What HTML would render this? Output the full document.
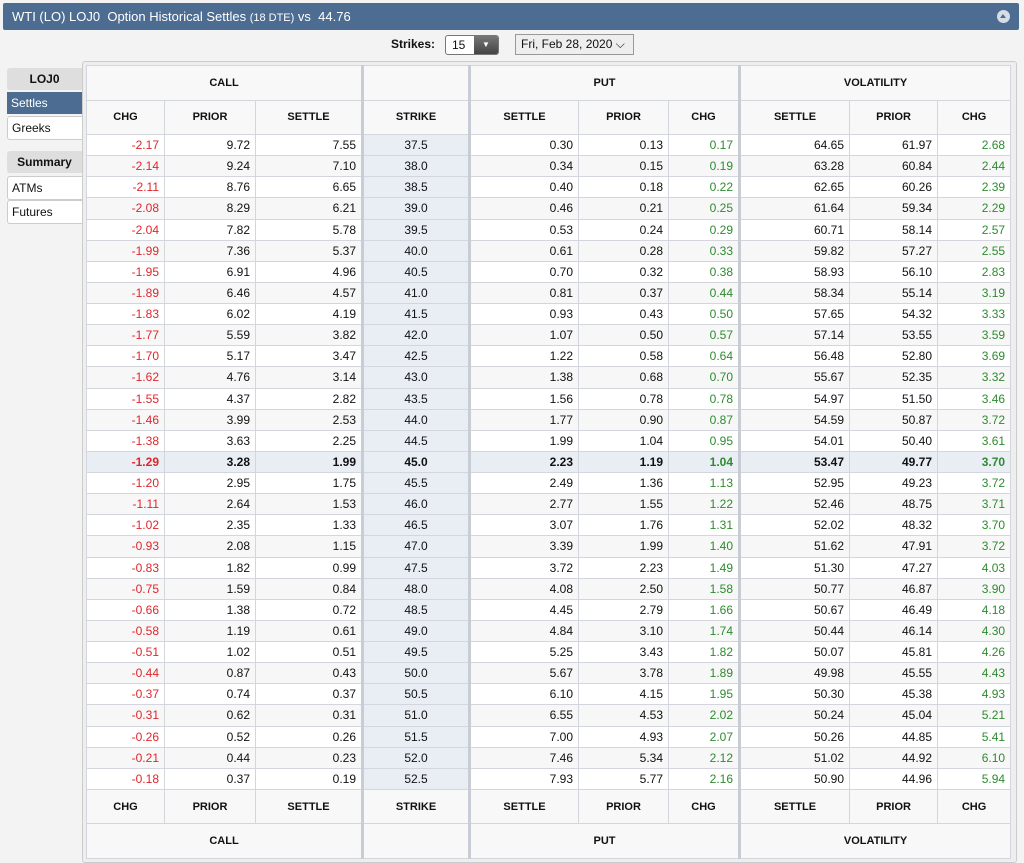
<!DOCTYPE html>
<html><head><meta charset="utf-8"><style>
*{box-sizing:border-box;margin:0;padding:0}
body{width:1024px;height:863px;background:#f3f3f3;font-family:"Liberation Sans",Arial,sans-serif;position:relative;overflow:hidden;color:#111}
.hdr{position:absolute;left:3px;top:3px;width:1016px;height:27px;background:#4c6c91;color:#fff;font-size:13px;line-height:27px;padding-left:9px;border-radius:2px}
.hdr small{font-size:11px}
.hdr .ic{position:absolute;right:9px;top:7px;width:13px;height:13px;border-radius:50%;background:#d7dde6}
.hdr .ic:after{content:"";position:absolute;left:3px;top:4px;border-left:3.5px solid transparent;border-right:3.5px solid transparent;border-bottom:4px solid #4c6c91}
.lab{position:absolute;left:391px;top:37px;font-size:12px;font-weight:bold}
.sel{position:absolute;left:445px;top:35px;width:54px;height:20px;border:1px solid #777;border-radius:3px;background:#fff;font-size:12px;line-height:18px;padding-left:6px;overflow:hidden}
.sel b{position:absolute;right:0;top:0;width:24px;height:18px;background:linear-gradient(#777,#444);color:#fff;font-size:8px;text-align:center;line-height:18px}
.date{position:absolute;left:515px;top:34px;width:119px;height:21px;border:1px solid #999;background:#eee;font-size:12px;line-height:19px;padding-left:5px}
.side div{position:absolute;left:7px;width:75px;font-size:12px;line-height:22px;padding-left:4px}
.g{background:#dedede;font-weight:bold;text-align:center;padding-left:0!important;border-radius:3px 0 0 3px}
.w{background:#fff;border:1px solid #ccc;border-right:none;border-radius:3px 0 0 3px}
.s{background:#4c6c91;color:#fff}
.panel{position:absolute;left:82px;top:61px;width:935px;height:802px;border:1px solid #ccc;border-radius:3px;background:#eee}
table{position:absolute;left:86px;top:65px;width:924px;border-collapse:collapse;table-layout:fixed;font-size:12px;background:#fff}
td{border:1px solid #d3d6dc;text-align:right;padding-right:5px;height:21.13px;white-space:nowrap}
tr.h td{height:34.5px;text-align:center;padding:0;font-weight:bold;font-size:11px;background:#f8f8f8}
tr:nth-child(even):not(.h) td{background:#f7f7f8}
td:nth-child(4){text-align:center;padding:0;background:#e9edf4!important}
td:nth-child(4),td:nth-child(5),td:nth-child(8){border-left:3px solid #c8ccd4}
tr.h td.k{border-left:3px solid #c8ccd4;background:#f8f8f8!important}
td:nth-child(1){color:#e0262b}
td:nth-child(7),td:nth-child(10){color:#2e8b2e}
tr.h td{color:#111!important}
tr.a td{background:#e9edf4!important;font-weight:bold}
</style></head><body>
<div class="hdr">WTI (LO) LOJ0&nbsp; Option Historical Settles <small>(18 DTE)</small> vs&nbsp; 44.76<div class="ic"></div></div>
<div class="lab">Strikes:</div>
<div class="sel">15<b>▼</b></div>
<div class="date">Fri, Feb 28, 2020 ⌵</div>
<div class="panel"></div>
<div class="side">
<div class="g" style="top:68px">LOJ0</div>
<div class="s" style="top:92px">Settles</div>
<div class="w" style="top:116px">Greeks</div>
<div class="g" style="top:151px">Summary</div>
<div class="w" style="top:176px">ATMs</div>
<div class="w" style="top:200px">Futures</div>
</div>
<table>
<colgroup><col style="width:78px"><col style="width:91px"><col style="width:107px"><col style="width:107px"><col style="width:109px"><col style="width:90px"><col style="width:71px"><col style="width:110px"><col style="width:88px"><col style="width:73px"></colgroup>
<tr class="h"><td colspan="3">CALL</td><td class="k"></td><td colspan="3" class="k">PUT</td><td colspan="3" class="k">VOLATILITY</td></tr>
<tr class="h"><td>CHG</td><td>PRIOR</td><td>SETTLE</td><td class="k">STRIKE</td><td class="k">SETTLE</td><td>PRIOR</td><td>CHG</td><td class="k">SETTLE</td><td>PRIOR</td><td>CHG</td></tr>
<tr><td>-2.17</td><td>9.72</td><td>7.55</td><td>37.5</td><td>0.30</td><td>0.13</td><td>0.17</td><td>64.65</td><td>61.97</td><td>2.68</td></tr>
<tr><td>-2.14</td><td>9.24</td><td>7.10</td><td>38.0</td><td>0.34</td><td>0.15</td><td>0.19</td><td>63.28</td><td>60.84</td><td>2.44</td></tr>
<tr><td>-2.11</td><td>8.76</td><td>6.65</td><td>38.5</td><td>0.40</td><td>0.18</td><td>0.22</td><td>62.65</td><td>60.26</td><td>2.39</td></tr>
<tr><td>-2.08</td><td>8.29</td><td>6.21</td><td>39.0</td><td>0.46</td><td>0.21</td><td>0.25</td><td>61.64</td><td>59.34</td><td>2.29</td></tr>
<tr><td>-2.04</td><td>7.82</td><td>5.78</td><td>39.5</td><td>0.53</td><td>0.24</td><td>0.29</td><td>60.71</td><td>58.14</td><td>2.57</td></tr>
<tr><td>-1.99</td><td>7.36</td><td>5.37</td><td>40.0</td><td>0.61</td><td>0.28</td><td>0.33</td><td>59.82</td><td>57.27</td><td>2.55</td></tr>
<tr><td>-1.95</td><td>6.91</td><td>4.96</td><td>40.5</td><td>0.70</td><td>0.32</td><td>0.38</td><td>58.93</td><td>56.10</td><td>2.83</td></tr>
<tr><td>-1.89</td><td>6.46</td><td>4.57</td><td>41.0</td><td>0.81</td><td>0.37</td><td>0.44</td><td>58.34</td><td>55.14</td><td>3.19</td></tr>
<tr><td>-1.83</td><td>6.02</td><td>4.19</td><td>41.5</td><td>0.93</td><td>0.43</td><td>0.50</td><td>57.65</td><td>54.32</td><td>3.33</td></tr>
<tr><td>-1.77</td><td>5.59</td><td>3.82</td><td>42.0</td><td>1.07</td><td>0.50</td><td>0.57</td><td>57.14</td><td>53.55</td><td>3.59</td></tr>
<tr><td>-1.70</td><td>5.17</td><td>3.47</td><td>42.5</td><td>1.22</td><td>0.58</td><td>0.64</td><td>56.48</td><td>52.80</td><td>3.69</td></tr>
<tr><td>-1.62</td><td>4.76</td><td>3.14</td><td>43.0</td><td>1.38</td><td>0.68</td><td>0.70</td><td>55.67</td><td>52.35</td><td>3.32</td></tr>
<tr><td>-1.55</td><td>4.37</td><td>2.82</td><td>43.5</td><td>1.56</td><td>0.78</td><td>0.78</td><td>54.97</td><td>51.50</td><td>3.46</td></tr>
<tr><td>-1.46</td><td>3.99</td><td>2.53</td><td>44.0</td><td>1.77</td><td>0.90</td><td>0.87</td><td>54.59</td><td>50.87</td><td>3.72</td></tr>
<tr><td>-1.38</td><td>3.63</td><td>2.25</td><td>44.5</td><td>1.99</td><td>1.04</td><td>0.95</td><td>54.01</td><td>50.40</td><td>3.61</td></tr>
<tr class="a"><td>-1.29</td><td>3.28</td><td>1.99</td><td>45.0</td><td>2.23</td><td>1.19</td><td>1.04</td><td>53.47</td><td>49.77</td><td>3.70</td></tr>
<tr><td>-1.20</td><td>2.95</td><td>1.75</td><td>45.5</td><td>2.49</td><td>1.36</td><td>1.13</td><td>52.95</td><td>49.23</td><td>3.72</td></tr>
<tr><td>-1.11</td><td>2.64</td><td>1.53</td><td>46.0</td><td>2.77</td><td>1.55</td><td>1.22</td><td>52.46</td><td>48.75</td><td>3.71</td></tr>
<tr><td>-1.02</td><td>2.35</td><td>1.33</td><td>46.5</td><td>3.07</td><td>1.76</td><td>1.31</td><td>52.02</td><td>48.32</td><td>3.70</td></tr>
<tr><td>-0.93</td><td>2.08</td><td>1.15</td><td>47.0</td><td>3.39</td><td>1.99</td><td>1.40</td><td>51.62</td><td>47.91</td><td>3.72</td></tr>
<tr><td>-0.83</td><td>1.82</td><td>0.99</td><td>47.5</td><td>3.72</td><td>2.23</td><td>1.49</td><td>51.30</td><td>47.27</td><td>4.03</td></tr>
<tr><td>-0.75</td><td>1.59</td><td>0.84</td><td>48.0</td><td>4.08</td><td>2.50</td><td>1.58</td><td>50.77</td><td>46.87</td><td>3.90</td></tr>
<tr><td>-0.66</td><td>1.38</td><td>0.72</td><td>48.5</td><td>4.45</td><td>2.79</td><td>1.66</td><td>50.67</td><td>46.49</td><td>4.18</td></tr>
<tr><td>-0.58</td><td>1.19</td><td>0.61</td><td>49.0</td><td>4.84</td><td>3.10</td><td>1.74</td><td>50.44</td><td>46.14</td><td>4.30</td></tr>
<tr><td>-0.51</td><td>1.02</td><td>0.51</td><td>49.5</td><td>5.25</td><td>3.43</td><td>1.82</td><td>50.07</td><td>45.81</td><td>4.26</td></tr>
<tr><td>-0.44</td><td>0.87</td><td>0.43</td><td>50.0</td><td>5.67</td><td>3.78</td><td>1.89</td><td>49.98</td><td>45.55</td><td>4.43</td></tr>
<tr><td>-0.37</td><td>0.74</td><td>0.37</td><td>50.5</td><td>6.10</td><td>4.15</td><td>1.95</td><td>50.30</td><td>45.38</td><td>4.93</td></tr>
<tr><td>-0.31</td><td>0.62</td><td>0.31</td><td>51.0</td><td>6.55</td><td>4.53</td><td>2.02</td><td>50.24</td><td>45.04</td><td>5.21</td></tr>
<tr><td>-0.26</td><td>0.52</td><td>0.26</td><td>51.5</td><td>7.00</td><td>4.93</td><td>2.07</td><td>50.26</td><td>44.85</td><td>5.41</td></tr>
<tr><td>-0.21</td><td>0.44</td><td>0.23</td><td>52.0</td><td>7.46</td><td>5.34</td><td>2.12</td><td>51.02</td><td>44.92</td><td>6.10</td></tr>
<tr><td>-0.18</td><td>0.37</td><td>0.19</td><td>52.5</td><td>7.93</td><td>5.77</td><td>2.16</td><td>50.90</td><td>44.96</td><td>5.94</td></tr>
<tr class="h"><td>CHG</td><td>PRIOR</td><td>SETTLE</td><td class="k">STRIKE</td><td class="k">SETTLE</td><td>PRIOR</td><td>CHG</td><td class="k">SETTLE</td><td>PRIOR</td><td>CHG</td></tr>
<tr class="h"><td colspan="3">CALL</td><td class="k"></td><td colspan="3" class="k">PUT</td><td colspan="3" class="k">VOLATILITY</td></tr>
</table>
</body></html>
